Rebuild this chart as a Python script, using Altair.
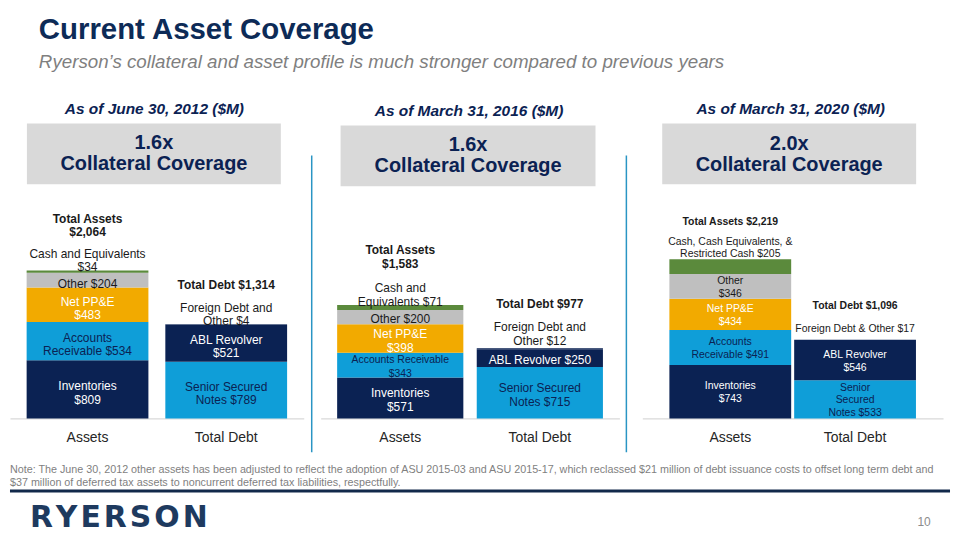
import altair as alt
import pandas as pd

FONT = "Liberation Sans"
NAVY = "#0B2253"
TITLE_NAVY = "#0D2B57"
BLUE = "#0F9ED8"
AMBER = "#F2AA00"
GREY = "#BFBFBF"
GREEN = "#5B8A3C"
BOX = "#D9D9D9"
DARK = "#1A1A1A"
WHITE = "#FFFFFF"
DIVIDER = "#2A95C4"

# ---------------- data ----------------
CATEGORIES = ["Assets", "Total Debt"]
ASSET_SEGMENTS = ["Inventories", "Accounts Receivable", "Net PP&E", "Other", "Cash"]
DEBT_SEGMENTS = ["Senior Secured Notes", "ABL Revolver", "Foreign Debt and Other"]

PERIODS = ["As of June 30, 2012 ($M)", "As of March 31, 2016 ($M)", "As of March 31, 2020 ($M)"]
COVERAGE = ["1.6x", "1.6x", "2.0x"]

ASSETS_2012 = [809, 534, 483, 204, 34]
ASSETS_2016 = [571, 343, 398, 200, 71]
ASSETS_2020 = [743, 491, 434, 346, 205]
DEBT_2012 = [789, 521, 4]
DEBT_2016 = [715, 250, 12]
DEBT_2020 = [533, 546, 17]

ASSET_LABELS_2012 = ["Inventories\n${}", "Accounts\nReceivable  ${}", "Net PP&E\n${}", "Other  ${}",
                     "Cash and Equivalents\n${}"]
ASSET_LABELS_2016 = ["Inventories\n${}", "Accounts Receivable\n${}", "Net PP&E\n${}", "Other  ${}",
                     "Cash and\nEquivalents  ${}"]
ASSET_LABELS_2020 = ["Inventories\n${}", "Accounts\nReceivable  ${}", "Net PP&E\n${}", "Other\n${}",
                     "Cash, Cash Equivalents,  &\nRestricted Cash ${}"]
DEBT_LABELS_2012 = ["Senior Secured\nNotes ${}", "ABL Revolver\n${}", "Foreign Debt and\nOther  ${}"]
DEBT_LABELS_2016 = ["Senior Secured\nNotes ${}", "ABL Revolver  ${}", "Foreign Debt and\nOther  ${}"]
DEBT_LABELS_2020 = ["Senior\nSecured\nNotes ${}", "ABL Revolver\n${}", "Foreign Debt & Other ${}"]
TOTAL_ASSET_LABELS = ["Total Assets\n${:,}", "Total Assets\n${:,}", "Total Assets ${:,}"]
TOTAL_DEBT_LABELS = ["Total Debt ${:,}", "Total Debt ${:,}", "Total Debt ${:,}"]

TITLE = "Current Asset Coverage"
SUBTITLE = "Ryerson\u2019s collateral and asset profile is much stronger compared to previous years"
NOTE_1 = ("Note: The June 30, 2012 other assets has been adjusted to reflect the adoption of ASU 2015-03 and "
          "ASU 2015-17, which reclassed $21 million of debt issuance costs to offset long term debt and")
NOTE_2 = "$37 million  of deferred tax assets to noncurrent deferred tax liabilities, respectfully."
LOGO = "RYERSON"
PAGE = "10"

ASSET_VALUES = [ASSETS_2012, ASSETS_2016, ASSETS_2020]
DEBT_VALUES = [DEBT_2012, DEBT_2016, DEBT_2020]
ASSET_LABELS = [ASSET_LABELS_2012, ASSET_LABELS_2016, ASSET_LABELS_2020]
DEBT_LABELS = [DEBT_LABELS_2012, DEBT_LABELS_2016, DEBT_LABELS_2020]

# ---------------- styling ----------------
SEG_DOMAIN = ASSET_SEGMENTS + DEBT_SEGMENTS
SEG_COLORS = [NAVY, BLUE, AMBER, GREY, GREEN, BLUE, NAVY, NAVY]
ASSET_TEXT_COLORS = [WHITE, NAVY, WHITE, DARK, DARK]
DEBT_TEXT_COLORS = [NAVY, WHITE, DARK]

PLOT_H = 324
Y_MAX = 4500
PX_PER_UNIT = PLOT_H / Y_MAX


def units(px):
    return px / PX_PER_UNIT


STYLE = [
    dict(width=295, inner=0.122, outer=0.12, size=12, lh=13.5, in_dy=3.5, cash_off=10, tot_a_off=45,
         for_off=9.5, tot_d_off=39, head_y=13, cov_y=(47, 69), box=(17, 272, 28, 89), head_x=145,
         small={}),
    dict(width=300, inner=0.096, outer=0.118, size=12, lh=14, in_dy=2, cash_off=10, tot_a_off=48,
         for_off=14, tot_d_off=44, head_y=15.5, cov_y=(49, 71), box=(20, 276, 30, 91), head_x=149,
         small={"Accounts Receivable": 10.5}),
    dict(width=302, inner=0.024, outer=0.217, size=10.5, lh=12.5, in_dy=1, cash_off=11.5, tot_a_off=37,
         for_off=11, tot_d_off=34, head_y=13, cov_y=(48, 70), box=(20, 275, 28, 89), head_x=149,
         small={}),
]

ONE = pd.DataFrame({"k": [0]})


def txt(x, y, s, **kw):
    kw.setdefault("font", FONT)
    return alt.Chart(ONE).mark_text(text=s, **kw).encode(x=alt.value(x), y=alt.value(y))


def first_line(center_units, text, lh):
    # Vega draws line 1 at the anchor; shift so the whole block is centred
    n = text.count("\n") + 1
    return center_units + units((n - 1) * lh / 2)


def panel(k):
    st = STYLE[k]
    lh = st["lh"]
    bars, labels, totals = [], [], []
    groups = [
        ("Assets", ASSET_SEGMENTS, ASSET_VALUES[k], ASSET_LABELS[k], ASSET_TEXT_COLORS,
         st["cash_off"], TOTAL_ASSET_LABELS[k], st["tot_a_off"]),
        ("Total Debt", DEBT_SEGMENTS, DEBT_VALUES[k], DEBT_LABELS[k], DEBT_TEXT_COLORS,
         st["for_off"], TOTAL_DEBT_LABELS[k], st["tot_d_off"]),
    ]
    for cat, segs, vals, fmts, tcols, top_off, tot_fmt, tot_off in groups:
        base = 0
        n = len(segs)
        for j, (s, v, f, tc) in enumerate(zip(segs, vals, fmts, tcols)):
            bars.append(dict(cat=cat, seg=s, y0=base, y1=base + v))
            size = st["small"].get(s, st["size"])
            text = f.format(v)
            if j < n - 1:
                center = base + v / 2 - units(st["in_dy"])
            else:
                center = base + v + units(top_off)
            labels.append(dict(cat=cat, text=text, yv=first_line(center, text, lh), tcolor=tc, tsize=size))
            base += v
        ttext = tot_fmt.format(base)
        totals.append(dict(cat=cat, text=ttext, yv=first_line(base + units(tot_off), ttext, lh),
                           tsize=st["size"]))

    bars_df = pd.DataFrame(bars)
    labels_df = pd.DataFrame(labels)
    totals_df = pd.DataFrame(totals)

    xenc = alt.X("cat:N",
                 scale=alt.Scale(domain=CATEGORIES, paddingInner=st["inner"], paddingOuter=st["outer"]),
                 axis=alt.Axis(title=None, labelAngle=0, ticks=False, domainColor="#D9D9D9",
                               domainWidth=1.5, labelFontSize=14, labelColor="#262626",
                               labelFont=FONT, labelPadding=12, grid=False))
    yscale = alt.Scale(domain=[0, Y_MAX], nice=False, zero=True)

    bar_layer = alt.Chart(bars_df).mark_bar().encode(
        x=xenc,
        y=alt.Y("y0:Q", scale=yscale, axis=None),
        y2="y1:Q",
        color=alt.Color("seg:N", scale=alt.Scale(domain=SEG_DOMAIN, range=SEG_COLORS), legend=None),
    )
    label_layer = alt.Chart(labels_df).mark_text(
        font=FONT, baseline="middle", align="center", lineBreak="\n", lineHeight=lh
    ).encode(
        x=xenc,
        y=alt.Y("yv:Q", scale=yscale, axis=None),
        text="text:N",
        color=alt.Color("tcolor:N", scale=None),
        size=alt.Size("tsize:Q", scale=None),
    )
    total_layer = alt.Chart(totals_df).mark_text(
        font=FONT, fontWeight="bold", baseline="middle", align="center", lineBreak="\n",
        lineHeight=lh, color=DARK
    ).encode(
        x=xenc,
        y=alt.Y("yv:Q", scale=yscale, axis=None),
        text="text:N",
        size=alt.Size("tsize:Q", scale=None),
    )

    bx0, bx1, by0, by1 = st["box"]
    cx = (bx0 + bx1) / 2
    box = alt.Chart(ONE).mark_rect(color=BOX).encode(
        x=alt.value(bx0), x2=alt.value(bx1), y=alt.value(by0), y2=alt.value(by1))
    head = txt(st["head_x"], st["head_y"], PERIODS[k], fontSize=15.5, fontWeight="bold",
               fontStyle="italic", color=NAVY, align="center", baseline="middle")
    cov1 = txt(cx, st["cov_y"][0], COVERAGE[k], fontSize=20, fontWeight="bold", color=NAVY,
               align="center", baseline="middle")
    cov2 = txt(cx, st["cov_y"][1], "Collateral  Coverage", fontSize=20, fontWeight="bold", color=NAVY,
               align="center", baseline="middle")

    return alt.layer(bar_layer, label_layer, total_layer, box, head, cov1, cov2).properties(
        width=st["width"], height=PLOT_H)


def divider(w, x):
    return alt.Chart(ONE).mark_rule(color=DIVIDER, strokeWidth=1.5).encode(
        x=alt.value(x), y=alt.value(60), y2=alt.value(358)).properties(width=w, height=PLOT_H)


header = alt.layer(
    txt(29, 30, TITLE, fontSize=29.5, fontWeight="bold", color=TITLE_NAVY, align="left",
        baseline="alphabetic"),
    txt(29, 59, SUBTITLE, fontSize=18.8, fontStyle="italic", color="#7F7F7F", align="left",
        baseline="alphabetic"),
).properties(width=944, height=87)

middle = alt.hconcat(panel(0), divider(17, 8), panel(1), divider(23, 7), panel(2),
                     spacing=0, bounds="flush")

# footer origin = bottom of the middle block (page y ~453)
footer = alt.layer(
    txt(0, 17, NOTE_1, fontSize=10.8, color="#7F7F7F", align="left", baseline="middle"),
    txt(0, 30, NOTE_2, fontSize=10.8, color="#7F7F7F", align="left", baseline="middle"),
    alt.Chart(ONE).mark_rule(color="#12294A", strokeWidth=3).encode(
        x=alt.value(0), x2=alt.value(944), y=alt.value(38)),
    txt(20, 65, "\u200a".join(LOGO), font="DejaVu Sans", fontSize=30, fontWeight="bold",
        color="#1E3A5F", align="left", baseline="middle"),
    txt(918, 69, PAGE, fontSize=12, color="#8C8C8C", align="center", baseline="middle"),
).properties(width=944, height=79)

chart = alt.vconcat(header, middle, footer, spacing=0).properties(
    padding=0
).configure_view(stroke=None)

chart.save("out.html", embed_options={"renderer": "svg", "actions": False})
